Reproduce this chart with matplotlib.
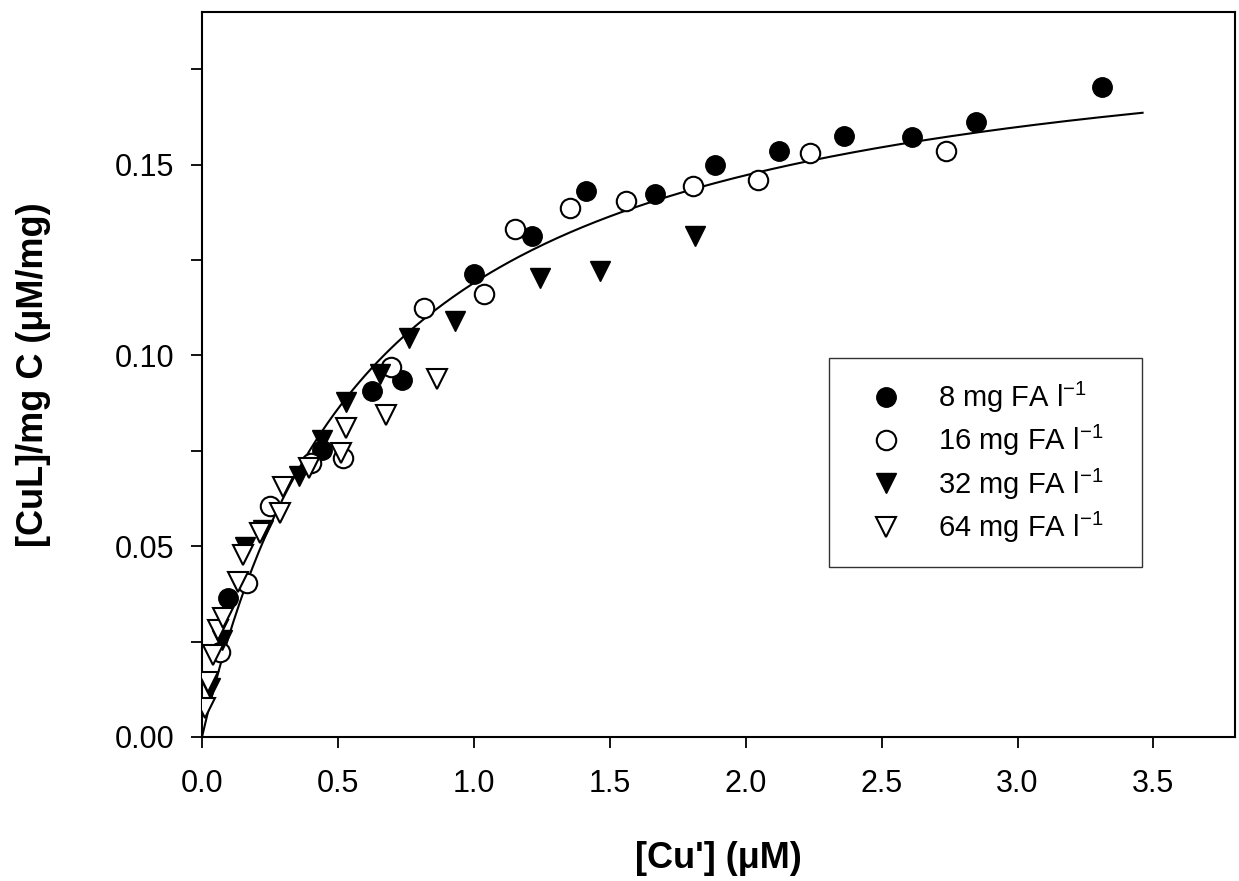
import numpy as np
import matplotlib
matplotlib.use("Agg")
import matplotlib.pyplot as plt
from matplotlib.ticker import MultipleLocator

plt.rcParams['font.family'] = ['Liberation Sans', 'DejaVu Sans']
plt.rcParams['mathtext.fontset'] = 'custom'
plt.rcParams['mathtext.rm'] = 'Liberation Sans'
plt.rcParams['mathtext.it'] = 'Liberation Sans'
plt.rcParams['mathtext.bf'] = 'Liberation Sans:bold'

# 8 mg FA/l
x8 = [0.097, 0.44, 0.627, 0.737, 1.00, 1.214, 1.413, 1.667, 1.887, 2.123, 2.360, 2.611, 2.846, 3.311]
y8 = [0.0364, 0.0753, 0.0906, 0.0936, 0.1214, 0.1312, 0.1432, 0.1423, 0.1498, 0.1537, 0.1574, 0.1573, 0.1612, 0.1703]

# 16 mg FA/l
x16 = [0.068, 0.164, 0.250, 0.400, 0.519, 0.697, 0.817, 1.037, 1.150, 1.354, 1.558, 1.807, 2.045, 2.237, 2.736]
y16 = [0.0224, 0.0403, 0.0606, 0.0718, 0.0731, 0.0970, 0.1124, 0.1161, 0.1330, 0.1387, 0.1404, 0.1443, 0.1461, 0.1531, 0.1535]

# 32 mg FA/l
x32 = [0.029, 0.072, 0.158, 0.225, 0.357, 0.443, 0.531, 0.654, 0.760, 0.932, 1.242, 1.464, 1.815]
y32 = [0.0128, 0.0254, 0.0499, 0.0543, 0.0683, 0.0779, 0.0877, 0.0952, 0.1046, 0.1089, 0.1203, 0.1220, 0.1312]

# 64 mg FA/l
x64 = [0.011, 0.023, 0.042, 0.060, 0.079, 0.134, 0.152, 0.213, 0.287, 0.299, 0.394, 0.513, 0.531, 0.676, 0.865]
y64 = [0.0075, 0.0145, 0.0215, 0.0281, 0.0311, 0.0407, 0.0477, 0.0534, 0.0587, 0.0656, 0.0705, 0.0744, 0.0810, 0.0843, 0.0938]

labels = ["8 mg FA l$^{-1}$", "16 mg FA l$^{-1}$", "32 mg FA l$^{-1}$", "64 mg FA l$^{-1}$"]

# Langmuir fit line
bmax = 0.193
kd = 0.622
x_fit_max = 3.46

fig = plt.figure(figsize=(12.39, 8.81), dpi=100)
ax = fig.add_axes([202/1239, 1 - 737/881, 1033/1239, 725/881])

xf = np.linspace(0, x_fit_max, 300)
ax.plot(xf, bmax * xf / (kd + xf), color="black", lw=1.5, zorder=1)

ms = 14
ax.plot(x8, y8, "o", color="black", ms=ms, ls="none", label=labels[0], zorder=3)
ax.plot(x16, y16, "o", mfc="white", mec="black", mew=1.5, ms=ms, ls="none", label=labels[1], zorder=3)
ax.plot(x32, y32, "v", color="black", ms=ms, ls="none", label=labels[2], zorder=3)
ax.plot(x64, y64, "v", mfc="white", mec="black", mew=1.5, ms=ms, ls="none", label=labels[3], zorder=3)

ax.set_xlim(0, 3.8)
ax.set_ylim(0, 0.19)
ax.xaxis.set_major_locator(MultipleLocator(0.5))
ax.yaxis.set_major_locator(MultipleLocator(0.05))
ax.yaxis.set_minor_locator(MultipleLocator(0.025))
ax.xaxis.set_major_formatter(plt.FormatStrFormatter("%.1f"))
ax.yaxis.set_major_formatter(plt.FormatStrFormatter("%.2f"))
ax.tick_params(which="both", direction="out", width=1.3, labelsize=22, top=False, right=False, length=8)
ax.tick_params(axis="y", which="major", pad=12)
ax.tick_params(axis="x", which="major", pad=15)
for s in ax.spines.values():
    s.set_linewidth(1.5)

ax.set_xlabel("[Cu'] (μM)", fontsize=26, fontweight="bold", labelpad=30)
ax.set_ylabel("[CuL]/mg C (μM/mg)", fontsize=26, fontweight="bold", labelpad=46)

leg = ax.legend(loc="upper left", bbox_to_anchor=(0.607, 0.233, 0.303, 0.29), mode="expand",
                fontsize=21, frameon=True, fancybox=False, edgecolor="black",
                borderpad=0.75, labelspacing=0.28, handletextpad=0.58, handlelength=2.42,
                borderaxespad=0, markerscale=1.0)
leg.get_frame().set_linewidth(1.0)

fig.savefig("out.png", dpi=100)
